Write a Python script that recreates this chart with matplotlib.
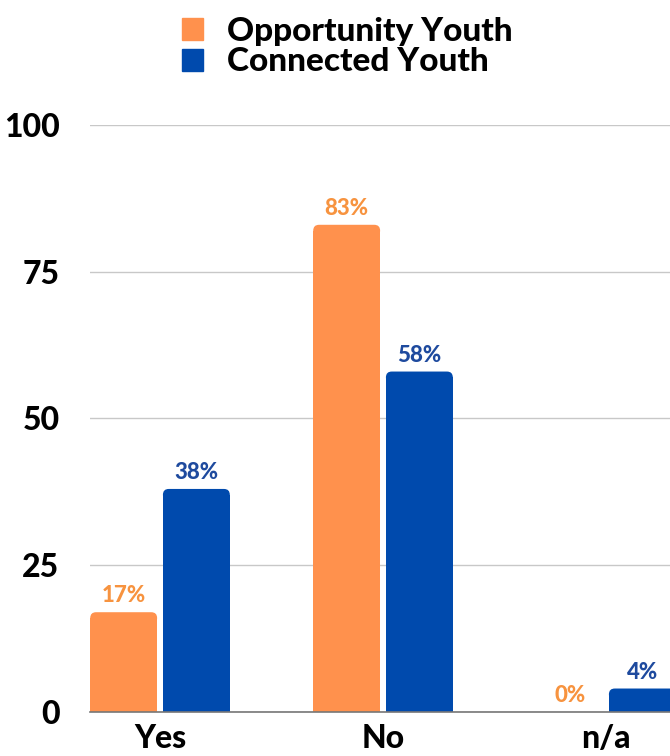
import matplotlib
matplotlib.use("Agg")
import matplotlib.pyplot as plt
from matplotlib.patches import Patch, FancyBboxPatch
import numpy as np

categories = ['Yes', 'No', 'n/a']
opportunity = [17, 83, 0]
connected = [38, 58, 4]
yticks = [0, 25, 50, 75, 100]

orange = '#FF914D'
blue = '#004AAD'
orange_txt = '#F7933F'
blue_txt = '#1E4A9E'

plt.rcParams['font.family'] = ['Lato', 'DejaVu Sans']

fig = plt.figure(figsize=(6.7, 7.56), dpi=100)
ax = fig.add_axes([90/670, 1-712/756, 1-90/670, (712-125)/756])

x = np.arange(len(categories))
w = 0.30
off = 0.163
r = 1.0  # corner radius in y units
asp = 38.0  # y units per x unit on screen


def rounded_bars(xs, vals, color):
    vals = np.array(vals, dtype=float)
    low = np.clip(vals - r, 0, None)
    ax.bar(xs, low, w, color=color, zorder=3)
    for xi, v in zip(xs, vals):
        if v <= 0:
            continue
        p = FancyBboxPatch((xi - w/2, max(v - 2*r, 0)), w, min(2*r, v),
                           boxstyle='round,pad=0,rounding_size=%f' % (r/asp),
                           mutation_aspect=asp, fc=color, ec='none', zorder=3)
        ax.add_patch(p)


rounded_bars(x - off, opportunity, orange)
rounded_bars(x + off, connected, blue)

for xi, v in zip(x, opportunity):
    ax.text(xi - off, v + 1.0, '%d%%' % v, ha='center', va='bottom',
            color=orange_txt, fontsize=16, fontweight='black', zorder=4)
for xi, v in zip(x, connected):
    ax.text(xi + off, v + 1.0, '%d%%' % v, ha='center', va='bottom',
            color=blue_txt, fontsize=16, fontweight='black', zorder=4)

ax.set_xlim(-0.314, 2.287)
ax.set_ylim(0, 100)
ax.set_yticks(yticks)
ax.set_yticklabels([str(t) for t in yticks], fontsize=23, fontweight='black')
ax.set_xticks(x)
ax.set_xticklabels(categories, fontsize=23, fontweight='black')
ax.tick_params(axis='y', length=0, pad=22)
ax.tick_params(axis='x', length=0, pad=9)
ax.grid(axis='y', color='#C8C8C8', linewidth=1, zorder=0)
for s in ['top', 'right', 'left']:
    ax.spines[s].set_visible(False)
ax.spines['bottom'].set_color('#777777')
ax.spines['bottom'].set_linewidth(1.2)
ax.spines['bottom'].set_zorder(4)

handles = [Patch(color=orange, label='Opportunity Youth'),
           Patch(color=blue, label='Connected Youth')]
fig.legend(handles=handles, loc='upper left', bbox_to_anchor=(165/670, 1.0),
           frameon=False, prop={'size': 24, 'weight': 'black'},
           handlelength=0.65, handleheight=0.65, handletextpad=0.7,
           labelspacing=0.05, borderaxespad=0.1)

fig.savefig('out.png', dpi=100)
